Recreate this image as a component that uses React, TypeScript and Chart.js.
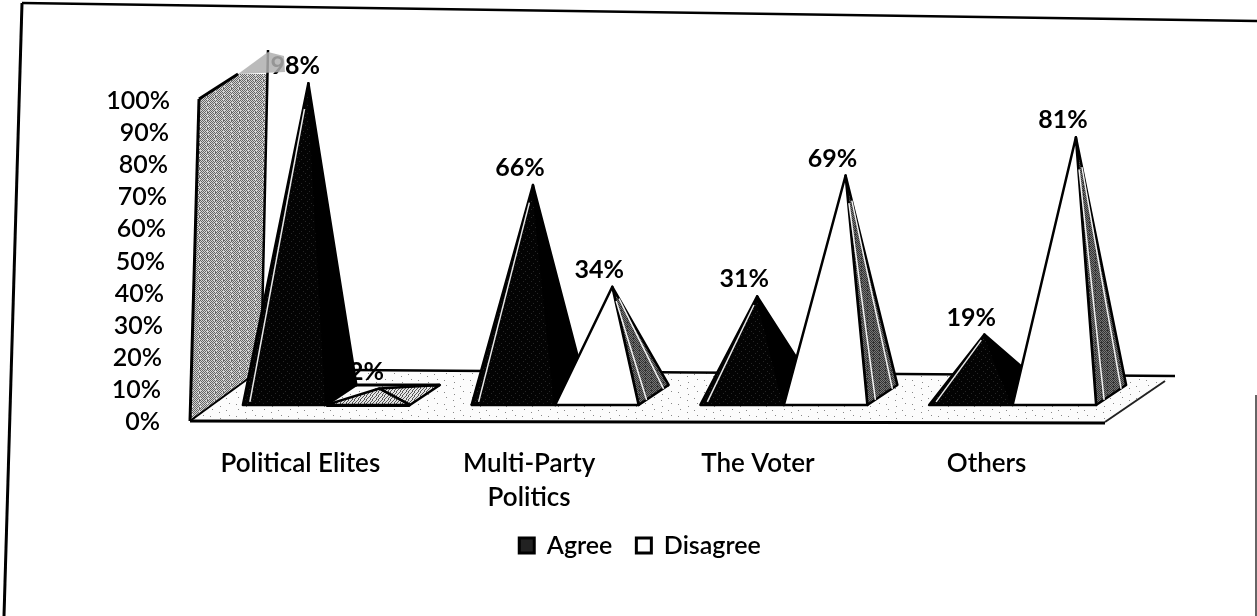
import React, { useEffect, useRef } from "react";
import { Chart, registerables } from "chart.js";

Chart.register(...registerables);

// Chart values
const categories = ["Political Elites", ["Multi-Party", "Politics"], "The Voter", "Others"];
const agree = [98, 66, 31, 19];
const disagree = [2, 34, 69, 81];
const axisTicks = { min: 0, max: 100, step: 10 };

const FONT = "Lato, 'Open Sans', sans-serif";

// Depth projection of the 3D box
const DEPTH_X = 30;
const DEPTH_Y = 20;
const GROUP_SHIFT = 22;

// Halftone tiles for the printed surfaces
const WALL_TILE = [
  "#.#.#..#",
  ".#.#.#.#",
  "#.#.#.#.",
  ".#.#.#..",
  "#.#.#.#.",
  ".#.#.#.#",
  "..#.#.#.",
  ".#.#.#.#",
];
const FLOOR_TILE = [
  "..........................",
  "....#.....................",
  "..................#.......",
  "..........................",
  "...........#..............",
  "..........................",
  "..........................",
  ".....................#....",
  "..#.......................",
  "..........................",
  "............#.............",
  "..........................",
];
const DARK_TILE = [
  "########",
  "###.####",
  "########",
  "#######.",
  "########",
  "#.######",
  "########",
  "#####.##",
];
const SIDE_TILE = ["#.#.#.", ".#.#.#", "#.###.", ".#.#.#"];
const FLAT_TILE = ["#..#..", "..#..#", ".#..#.", "#...#."];

function tile(ctx: CanvasRenderingContext2D, rows: string[], on: string, off: string) {
  const c = document.createElement("canvas");
  c.width = rows[0].length;
  c.height = rows.length;
  const g = c.getContext("2d")!;
  rows.forEach((r, y) =>
    [...r].forEach((ch, x) => {
      g.fillStyle = ch === "#" ? on : off;
      g.fillRect(x, y, 1, 1);
    })
  );
  return ctx.createPattern(c, "repeat")!;
}

function poly(ctx: CanvasRenderingContext2D, pts: number[][], fill?: any, stroke?: string, lw = 2.5) {
  ctx.beginPath();
  pts.forEach((p, i) => (i ? ctx.lineTo(p[0], p[1]) : ctx.moveTo(p[0], p[1])));
  ctx.closePath();
  if (fill) {
    ctx.fillStyle = fill;
    ctx.fill();
  }
  if (stroke) {
    ctx.strokeStyle = stroke;
    ctx.lineWidth = lw;
    ctx.lineJoin = "round";
    ctx.stroke();
  }
}

function line(ctx: CanvasRenderingContext2D, a: number[], b: number[], color = "#000", lw = 2.5) {
  ctx.beginPath();
  ctx.moveTo(a[0], a[1]);
  ctx.lineTo(b[0], b[1]);
  ctx.strokeStyle = color;
  ctx.lineWidth = lw;
  ctx.stroke();
}

const toward = (a: number[], b: number[], t: number) => [a[0] + (b[0] - a[0]) * t, a[1] + (b[1] - a[1]) * t];

const pyramidPlugin = {
  id: "pyramids",
  // The bar elements carry the geometry; pyramids are drawn in their place.
  beforeDatasetsDraw(chart: any) {
    const { ctx, chartArea: area } = chart;
    const yScale = chart.scales.y;
    const { left, right, bottom } = area;

    const wallFill = tile(ctx, WALL_TILE, "#666", "#d4d4d4");
    const floorFill = tile(ctx, FLOOR_TILE, "#888", "#fcfcfc");
    const darkFill = tile(ctx, DARK_TILE, "#030303", "#262626");
    const sideFill = tile(ctx, SIDE_TILE, "#333", "#777");
    const flatFill = tile(ctx, FLAT_TILE, "#555", "#e4e4e4");

    ctx.save();

    // Sheet border
    line(ctx, [22, 3], [1257, 21], "#000", 2.5);
    line(ctx, [22, 3], [4, 616], "#000", 3);
    line(ctx, [1256, 395], [1256, 616], "#333", 1.5);

    // Floor
    const backY = bottom - 51;
    poly(ctx, [[left, bottom], [right, bottom], [right + 65, backY + 6], [left + 73, backY]], floorFill);
    line(ctx, [left + 160, backY], [right + 70, backY + 6], "#000", 2.5);
    line(ctx, [right + 60, backY + 11], [right, bottom + 1], "#222", 2);
    line(ctx, [left, bottom], [right, bottom + 2], "#000", 3);

    // Side wall
    poly(
      ctx,
      [[left, bottom], [left + 9, yScale.top - 1], [left + 48, yScale.top - 26], [left + 78, yScale.top - 26], [left + 70, backY]],
      wallFill
    );
    line(ctx, [left, bottom], [left + 9, yScale.top - 1], "#000", 3);
    line(ctx, [left + 9, yScale.top - 1], [left + 48, yScale.top - 26], "#000", 3);
    line(ctx, [left + 78, yScale.top - 50], [left + 71, backY], "#000", 2.5);
    line(ctx, [left, bottom], [left + 70, backY], "#000", 2);

    // Value axis labels follow the slant of the wall edge
    ctx.font = `600 25px ${FONT}`;
    ctx.fillStyle = "#000";
    ctx.textAlign = "right";
    ctx.textBaseline = "middle";
    yScale.ticks.forEach((t: any, i: number) => {
      ctx.fillText(t.label, left - 30 + t.value * 0.1, yScale.getPixelForTick(i) + 1);
    });

    const metas = [chart.getDatasetMeta(0), chart.getDatasetMeta(1)];
    const tipOf = (el: any, v: number) => [el.x + GROUP_SHIFT + 11 + 0.13 * v, el.y];

    // Value labels sit behind the pyramids
    ctx.font = `700 25px ${FONT}`;
    ctx.textAlign = "center";
    metas.forEach((m, d) =>
      m.data.forEach((el: any, i: number) => {
        const v = chart.data.datasets[d].data[i];
        const tip = tipOf(el, v);
        ctx.fillStyle = "#000";
        ctx.fillText(`${v}%`, tip[0] - 13, tip[1] - 17);
      })
    );

    // Pyramids, each agree before its disagree neighbour
    categories.forEach((_, i) => {
      metas.forEach((m, d) => {
        const el = m.data[i];
        const v = chart.data.datasets[d].data[i];
        const half = el.width / 2;
        const x0 = el.x + GROUP_SHIFT - half;
        const x1 = el.x + GROUP_SHIFT + half;
        const y = el.base + DEPTH_Y / 2;
        const tip = tipOf(el, v);
        const back = [x1 + DEPTH_X, y - DEPTH_Y];
        if (d === 0) {
          poly(ctx, [[x1, y], back, tip], "#000", "#000");
          poly(ctx, [[x0, y], [x1, y], tip], darkFill, "#000");
          const a = [x0 + 7, y - 3];
          const b = toward([x0 + 4, y], tip, 0.92);
          line(ctx, a, [b[0] + 1, b[1]], "#e8e8e8", 1.5);
        } else if (v >= 10) {
          poly(ctx, [[x1, y], back, tip], sideFill, "#000");
          poly(ctx, [[x0, y], [x1, y], tip], "#fff", "#000");
          line(ctx, [x1 + 8, y - 5], toward([x1 + 6, y], tip, 0.88), "#f2f2f2", 1.5);
          line(ctx, [back[0] - 5, back[1] + 4], toward(back, tip, 0.88), "#f2f2f2", 1.5);
        } else {
          // A low share flattens to a sliver lying on the floor
          poly(ctx, [[x1, y], back, tip], flatFill, "#000");
          poly(ctx, [[x0, y], [x1, y], tip], flatFill, "#000");
          line(ctx, [x1 - 55, y - DEPTH_Y], back, "#000", 3);
          line(ctx, [x0, y + 0.5], [x1, y + 0.5], "#000", 3);
        }
      });
    });

    // Wall cap, fading over the first digit of the tallest label
    poly(ctx, [[left + 48, yScale.top - 26], [left + 78, yScale.top - 48], [left + 94, yScale.top - 44], [left + 95, yScale.top - 28]], "rgba(175,175,175,0.85)");

    ctx.restore();
    return false;
  },
};

export default function App() {
  const ref = useRef<HTMLCanvasElement>(null);

  useEffect(() => {
    const canvas = ref.current!;
    // Slightly open tracking for all text on this canvas
    (canvas.getContext("2d") as any).letterSpacing = "0.8px";
    const chart = new Chart(canvas, {
      type: "bar",
      plugins: [pyramidPlugin],
      data: {
        labels: categories as any,
        datasets: [
          { label: "Agree", data: agree, yAxisID: "depth", backgroundColor: "#222", borderColor: "#000", borderWidth: 3 },
          { label: "Disagree", data: disagree, yAxisID: "depth", backgroundColor: "#fff", borderColor: "#000", borderWidth: 3 },
        ],
      },
      options: {
        responsive: false,
        animation: false,
        datasets: { bar: { categoryPercentage: 0.73, barPercentage: 1 } },
        layout: { padding: { left: 175, right: 152, top: 100, bottom: 48 } },
        plugins: {
          tooltip: { enabled: false },
          legend: {
            position: "bottom",
            onClick: () => {},
            labels: {
              boxWidth: 15,
              boxHeight: 15,
              padding: 24,
              color: "#000",
              font: { family: FONT, size: 25, weight: 600 },
            },
          },
        },
        scales: {
          x: {
            grid: { display: false },
            border: { display: false },
            afterFit: (s: any) => {
              s.height = 88;
            },
            ticks: {
              color: "#000",
              maxRotation: 0,
              autoSkip: false,
              padding: 17,
              labelOffset: -4,
              font: { family: FONT, size: 26, weight: 600, lineHeight: 1.32 },
            },
          },
          y: {
            min: axisTicks.min,
            max: axisTicks.max,
            grid: { display: false },
            border: { display: false },
            afterFit: (s: any) => {
              s.width = 15;
            },
            ticks: {
              display: false,
              stepSize: axisTicks.step,
              callback: (v: any) => `${v}%`,
            },
          },
          // Plane of the series, set back in depth from the value axis
          depth: { display: false, min: -8.2, max: 92.74 },
        },
      },
    } as any);
    return () => chart.destroy();
  }, []);

  return (
    <div style={{ position: "absolute", left: 0, top: 0, width: 1257, height: 616, background: "#fff" }}>
      <canvas ref={ref} width={1257} height={616} style={{ display: "block" }} />
    </div>
  );
}
